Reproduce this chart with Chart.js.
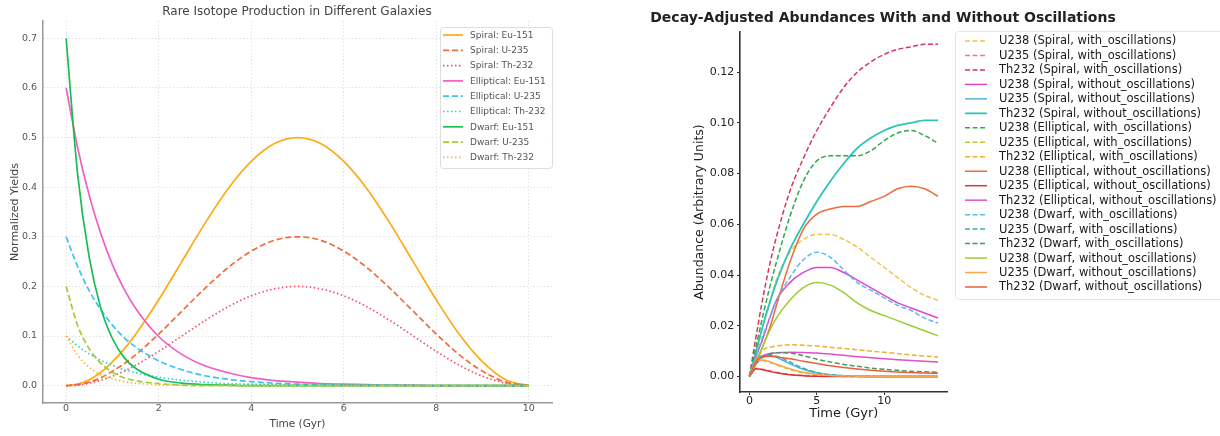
<!DOCTYPE html>
<html>
<head>
  <title>Isotope yields</title>
  <meta name="viewport" content="width=device-width, initial-scale=1">
  <script src="https://cdn.jsdelivr.net/npm/chart.js"></script>
  <style>
    body {
      margin: 0;
      padding: 0;
      background: #fff;
      width: 1220px;
      height: 436px;
      overflow: hidden;
      position: relative;
    }
    .box { position: absolute; top: 0; height: 436px; }
    #left-box { left: 0; width: 565px; }
    #right-box { left: 640px; width: 580px; }
  </style>
</head>
<body>

  <div class="box" id="left-box"><canvas id="leftChart"></canvas></div>
  <div class="box" id="right-box"><canvas id="rightChart"></canvas></div>

  <script>
    // ---- left chart: rare isotope production ----
    const leftTime = [0, 0.25, 0.5, 0.75, 1, 1.25, 1.5, 2, 2.5, 3, 3.5, 4, 4.5, 5, 5.5, 6, 6.5, 7, 7.5, 8, 8.5, 9, 9.5, 10];
    const spiralEu151 = [0, 0.003, 0.012, 0.027, 0.048, 0.073, 0.103, 0.173, 0.25, 0.327, 0.397, 0.452, 0.488, 0.5, 0.488, 0.452, 0.397, 0.327, 0.25, 0.173, 0.103, 0.048, 0.012, 0];
    const spiralU235 = [0, 0.002, 0.007, 0.016, 0.029, 0.044, 0.062, 0.104, 0.15, 0.196, 0.238, 0.271, 0.293, 0.3, 0.293, 0.271, 0.238, 0.196, 0.15, 0.104, 0.062, 0.029, 0.007, 0];
    const spiralTh232 = [0, 0.001, 0.005, 0.011, 0.019, 0.029, 0.041, 0.069, 0.1, 0.131, 0.159, 0.181, 0.195, 0.2, 0.195, 0.181, 0.159, 0.131, 0.1, 0.069, 0.041, 0.019, 0.005, 0];
    const ellipticalEu151 = [0.6, 0.479, 0.383, 0.306, 0.244, 0.195, 0.156, 0.099, 0.063, 0.04, 0.026, 0.016, 0.01, 0.007, 0.004, 0.003, 0.002, 0.001, 0.001, 0, 0, 0, 0, 0];
    const ellipticalU235 = [0.3, 0.24, 0.191, 0.153, 0.122, 0.097, 0.078, 0.05, 0.032, 0.02, 0.013, 0.008, 0.005, 0.003, 0.002, 0.001, 0.001, 0.001, 0, 0, 0, 0, 0, 0];
    const ellipticalTh232 = [0.1, 0.08, 0.064, 0.051, 0.041, 0.032, 0.026, 0.017, 0.011, 0.007, 0.004, 0.003, 0.002, 0.001, 0.001, 0, 0, 0, 0, 0, 0, 0, 0, 0];
    const dwarfEu151 = [0.7, 0.425, 0.258, 0.156, 0.095, 0.057, 0.035, 0.013, 0.005, 0.002, 0.001, 0, 0, 0, 0, 0, 0, 0, 0, 0, 0, 0, 0, 0];
    const dwarfU235 = [0.2, 0.121, 0.074, 0.045, 0.027, 0.016, 0.01, 0.004, 0.001, 0, 0, 0, 0, 0, 0, 0, 0, 0, 0, 0, 0, 0, 0, 0];
    const dwarfTh232 = [0.1, 0.061, 0.037, 0.022, 0.014, 0.008, 0.005, 0.002, 0.001, 0, 0, 0, 0, 0, 0, 0, 0, 0, 0, 0, 0, 0, 0, 0];
    const leftXTicks = [0, 2, 4, 6, 8, 10];
    const leftYTicks = [0, 0.1, 0.2, 0.3, 0.4, 0.5, 0.6, 0.7];

    // ---- right chart: decay-adjusted abundances ----
    const rightTime = [0, 0.5, 1, 1.5, 2, 3, 4, 5, 6, 7, 8, 9, 10, 11, 12, 13, 14];
    const u238SpiralOsc = [0, 0.010, 0.020, 0.029, 0.038, 0.049, 0.054, 0.056, 0.056, 0.054, 0.051, 0.047, 0.043, 0.039, 0.035, 0.032, 0.030];
    const u235SpiralOsc = [0, 0.0032, 0.0028, 0.0022, 0.0016, 0.0008, 0.0004, 0.0002, 0.0001, 0, 0, 0, 0, 0, 0, 0, 0];
    const th232SpiralOsc = [0, 0.016, 0.031, 0.044, 0.055, 0.073, 0.086, 0.097, 0.106, 0.114, 0.120, 0.124, 0.127, 0.129, 0.130, 0.131, 0.131];
    const u238SpiralNo = [0, 0.008, 0.015, 0.023, 0.030, 0.037, 0.041, 0.043, 0.043, 0.041, 0.038, 0.035, 0.032, 0.029, 0.027, 0.025, 0.023];
    const u235SpiralNo = [0, 0.0065, 0.0082, 0.0083, 0.0075, 0.005, 0.0028, 0.0014, 0.0006, 0.0003, 0.0001, 0, 0, 0, 0, 0, 0];
    const th232SpiralNo = [0, 0.010, 0.020, 0.029, 0.037, 0.050, 0.060, 0.069, 0.077, 0.084, 0.090, 0.094, 0.097, 0.099, 0.100, 0.101, 0.101];
    const u238EllOsc = [0, 0.012, 0.024, 0.035, 0.045, 0.063, 0.077, 0.085, 0.087, 0.087, 0.087, 0.089, 0.093, 0.096, 0.097, 0.095, 0.092];
    const u235EllOsc = [0, 0.0058, 0.0062, 0.0055, 0.0045, 0.0027, 0.0014, 0.0007, 0.0003, 0.0001, 0, 0, 0, 0, 0, 0, 0];
    const th232EllOsc = [0, 0.006, 0.0105, 0.0115, 0.012, 0.0125, 0.0123, 0.012, 0.0115, 0.011, 0.0105, 0.010, 0.0095, 0.009, 0.0085, 0.008, 0.0077];
    const u238EllNo = [0, 0.006, 0.012, 0.019, 0.028, 0.045, 0.058, 0.064, 0.066, 0.067, 0.067, 0.069, 0.071, 0.074, 0.075, 0.074, 0.071];
    const u235EllNo = [0, 0.003, 0.0026, 0.002, 0.0014, 0.0007, 0.0003, 0.0001, 0, 0, 0, 0, 0, 0, 0, 0, 0];
    const th232EllNo = [0, 0.005, 0.008, 0.009, 0.0093, 0.0095, 0.0094, 0.0092, 0.0088, 0.0083, 0.0078, 0.0074, 0.007, 0.0066, 0.0063, 0.006, 0.0057];
    const u238DwarfOsc = [0, 0.008, 0.016, 0.023, 0.030, 0.039, 0.046, 0.049, 0.047, 0.042, 0.037, 0.034, 0.031, 0.028, 0.026, 0.023, 0.021];
    const u235DwarfOsc = [0, 0.006, 0.0078, 0.0085, 0.008, 0.0057, 0.0032, 0.0015, 0.0007, 0.0003, 0.0001, 0, 0, 0, 0, 0, 0];
    const th232DwarfOsc = [0, 0.005, 0.0075, 0.0088, 0.0093, 0.0092, 0.0082, 0.0068, 0.0057, 0.0047, 0.004, 0.0033, 0.0028, 0.0024, 0.002, 0.0018, 0.0016];
    const u238DwarfNo = [0, 0.006, 0.012, 0.018, 0.023, 0.030, 0.035, 0.037, 0.036, 0.033, 0.029, 0.026, 0.024, 0.022, 0.020, 0.018, 0.016];
    const u235DwarfNo = [0, 0.0062, 0.0065, 0.0058, 0.0048, 0.003, 0.0016, 0.0008, 0.0004, 0.0002, 0.0001, 0, 0, 0, 0, 0, 0];
    const th232DwarfNo = [0, 0.006, 0.0078, 0.008, 0.0077, 0.007, 0.006, 0.0051, 0.0042, 0.0035, 0.0029, 0.0024, 0.002, 0.0017, 0.0015, 0.0013, 0.0012];
    const rightXTicks = [0, 5, 10];
    const rightYTicks = [0, 0.02, 0.04, 0.06, 0.08, 0.10, 0.12];

    const FONT = "'DejaVu Sans', sans-serif";
    const SOLID = [];

    // title + legend painted on top of the plot
    const overlay = {
      id: 'overlay',
      afterDraw(chart, args, o) {
        const ctx = chart.ctx;
        ctx.save();
        ctx.font = o.titleFont;
        ctx.fillStyle = o.titleColor;
        ctx.textAlign = 'center';
        ctx.textBaseline = 'middle';
        ctx.fillText(o.title, o.titleX, o.titleY);

        const lg = o.legend;
        ctx.fillStyle = 'rgba(255,255,255,0.9)';
        ctx.strokeStyle = lg.border;
        ctx.lineWidth = 1;
        ctx.beginPath();
        ctx.roundRect(lg.x + 0.5, lg.y + 0.5, lg.w, lg.h, 3);
        ctx.fill();
        ctx.stroke();

        chart.data.datasets.forEach((ds, i) => {
          const y = lg.first + i * lg.step;
          ctx.strokeStyle = ds.borderColor;
          ctx.lineWidth = ds.borderWidth;
          ctx.setLineDash(ds.borderDash || []);
          ctx.beginPath();
          ctx.moveTo(lg.x0, y);
          ctx.lineTo(lg.x1, y);
          ctx.stroke();
          ctx.setLineDash([]);
          ctx.fillStyle = lg.color;
          ctx.font = lg.font;
          ctx.textAlign = 'left';
          ctx.fillText(ds.label, lg.textX, y + 0.5);
        });
        ctx.restore();
      }
    };

    function makeSet(label, xs, ys, color, dash, width) {
      return {
        label: label,
        data: xs.map((x, i) => ({ x: x, y: ys[i] })),
        borderColor: color,
        borderWidth: width,
        borderDash: dash,
        pointRadius: 0,
        fill: false,
        cubicInterpolationMode: 'monotone'
      };
    }

    function setTicks(list) {
      return s => { s.ticks = list.map(v => ({ value: v })); };
    }

    // left
    const LD = [6, 3], LO = [1.5, 2.5];
    const leftSets = [
      makeSet('Spiral: Eu-151', leftTime, spiralEu151, '#fdab15', SOLID, 1.7),
      makeSet('Spiral: U-235', leftTime, spiralU235, '#f46c3a', LD, 1.7),
      makeSet('Spiral: Th-232', leftTime, spiralTh232, '#f5506e', LO, 1.7),
      makeSet('Elliptical: Eu-151', leftTime, ellipticalEu151, '#f25ec6', SOLID, 1.7),
      makeSet('Elliptical: U-235', leftTime, ellipticalU235, '#3ec0f5', LD, 1.7),
      makeSet('Elliptical: Th-232', leftTime, ellipticalTh232, '#26d2d2', LO, 1.7),
      makeSet('Dwarf: Eu-151', leftTime, dwarfEu151, '#18be55', SOLID, 1.7),
      makeSet('Dwarf: U-235', leftTime, dwarfU235, '#a3cb34', LD, 1.7),
      makeSet('Dwarf: Th-232', leftTime, dwarfTh232, '#ffb52e', LO, 1.7)
    ];
    leftSets.forEach((d, i) => { d.order = leftSets.length - i; });

    new Chart(document.getElementById('leftChart'), {
      type: 'line',
      data: { datasets: leftSets },
      options: {
        responsive: true,
        maintainAspectRatio: false,
        animation: false,
        layout: { padding: { left: 0, top: 21, right: 13, bottom: 0 } },
        plugins: {
          legend: { display: false },
          tooltip: { enabled: false },
          overlay: {
            title: 'Rare Isotope Production in Different Galaxies',
            titleFont: '12px ' + FONT, titleColor: '#444', titleX: 297, titleY: 12,
            legend: {
              x: 440, y: 27, w: 112, h: 141, border: '#dddddd',
              first: 35, step: 15.3, x0: 443, x1: 463, textX: 470,
              font: '9px ' + FONT, color: '#555'
            }
          }
        },
        scales: {
          x: {
            type: 'linear', min: -0.5, max: 10.5,
            afterBuildTicks: setTicks(leftXTicks),
            afterFit: s => { s.height = 33; },
            grid: { color: '#e2e2e2', drawTicks: false },
            border: { color: '#999', width: 1.5, dash: [1.5, 2] },
            ticks: { color: '#555', font: { family: FONT, size: 9.5 }, padding: 0, maxRotation: 0 },
            title: { display: true, text: 'Time (Gyr)', color: '#444', font: { family: FONT, size: 10.5 }, padding: { top: 0, bottom: 5.5 } }
          },
          y: {
            type: 'linear', min: -0.035, max: 0.735,
            afterBuildTicks: setTicks(leftYTicks),
            afterFit: s => { s.width = 43; },
            grid: { color: '#e2e2e2', drawTicks: false },
            border: { color: '#999', width: 1.5, dash: [1.5, 2] },
            ticks: { color: '#555', font: { family: FONT, size: 9.5 }, padding: 6, callback: v => v.toFixed(1) },
            title: { display: true, text: 'Normalized Yields', color: '#444', font: { family: FONT, size: 11 }, padding: { top: 8.4, bottom: 0 } }
          }
        }
      },
      plugins: [overlay]
    });

    // right
    const RD = [5, 2.5];
    const rightSets = [
      makeSet('U238 (Spiral, with_oscillations)', rightTime, u238SpiralOsc, '#f2c14e', RD, 1.5),
      makeSet('U235 (Spiral, with_oscillations)', rightTime, u235SpiralOsc, '#e8806f', RD, 1.5),
      makeSet('Th232 (Spiral, with_oscillations)', rightTime, th232SpiralOsc, '#d6385a', RD, 1.5),
      makeSet('U238 (Spiral, without_oscillations)', rightTime, u238SpiralNo, '#df45d2', SOLID, 1.5),
      makeSet('U235 (Spiral, without_oscillations)', rightTime, u235SpiralNo, '#4db3e6', SOLID, 1.5),
      makeSet('Th232 (Spiral, without_oscillations)', rightTime, th232SpiralNo, '#2ec4b6', SOLID, 1.8),
      makeSet('U238 (Elliptical, with_oscillations)', rightTime, u238EllOsc, '#2ea84e', RD, 1.5),
      makeSet('U235 (Elliptical, with_oscillations)', rightTime, u235EllOsc, '#b8cc2e', RD, 1.5),
      makeSet('Th232 (Elliptical, with_oscillations)', rightTime, th232EllOsc, '#f0b030', RD, 1.5),
      makeSet('U238 (Elliptical, without_oscillations)', rightTime, u238EllNo, '#ee6a3c', SOLID, 1.5),
      makeSet('U235 (Elliptical, without_oscillations)', rightTime, u235EllNo, '#e0303a', SOLID, 1.5),
      makeSet('Th232 (Elliptical, without_oscillations)', rightTime, th232EllNo, '#e050c8', SOLID, 1.5),
      makeSet('U238 (Dwarf, with_oscillations)', rightTime, u238DwarfOsc, '#5ab8ea', RD, 1.5),
      makeSet('U235 (Dwarf, with_oscillations)', rightTime, u235DwarfOsc, '#3aaeae', RD, 1.5),
      makeSet('Th232 (Dwarf, with_oscillations)', rightTime, th232DwarfOsc, '#4a9a5a', RD, 1.5),
      makeSet('U238 (Dwarf, without_oscillations)', rightTime, u238DwarfNo, '#9acd32', SOLID, 1.5),
      makeSet('U235 (Dwarf, without_oscillations)', rightTime, u235DwarfNo, '#f5a850', SOLID, 1.5),
      makeSet('Th232 (Dwarf, without_oscillations)', rightTime, th232DwarfNo, '#e8603a', SOLID, 1.5)
    ];
    rightSets.forEach((d, i) => { d.order = rightSets.length - i; });

    new Chart(document.getElementById('rightChart'), {
      type: 'line',
      data: { datasets: rightSets },
      options: {
        responsive: true,
        maintainAspectRatio: false,
        animation: false,
        layout: { padding: { left: 0, top: 32, right: 272.5, bottom: 0 } },
        plugins: {
          legend: { display: false },
          tooltip: { enabled: false },
          overlay: {
            title: 'Decay-Adjusted Abundances With and Without Oscillations',
            titleFont: 'bold 14px ' + FONT, titleColor: '#222', titleX: 243, titleY: 18,
            legend: {
              x: 315, y: 31, w: 280, h: 268, border: '#e4e4e4',
              first: 41, step: 14.47, x0: 325, x1: 347, textX: 359,
              font: '11.5px ' + FONT, color: '#1a1a1a'
            }
          }
        },
        scales: {
          x: {
            type: 'linear', min: -0.7, max: 14.7,
            afterBuildTicks: setTicks(rightXTicks),
            afterFit: s => { s.height = 44; },
            grid: { drawOnChartArea: false, drawTicks: true, tickLength: 3, tickColor: '#333' },
            border: { color: '#333', width: 1.6 },
            ticks: { color: '#222', font: { family: FONT, size: 11 }, padding: 0, maxRotation: 0 },
            title: { display: true, text: 'Time (Gyr)', color: '#222', font: { family: FONT, size: 13 }, padding: { top: 0, bottom: 14.2 } }
          },
          y: {
            type: 'linear', min: -0.00615, max: 0.13585,
            afterBuildTicks: setTicks(rightYTicks),
            afterFit: s => { s.width = 100; },
            grid: { drawOnChartArea: false, drawTicks: true, tickLength: 3, tickColor: '#333' },
            border: { color: '#333', width: 1.6 },
            ticks: { color: '#222', font: { family: FONT, size: 11 }, padding: 2.7, callback: v => v.toFixed(2) },
            title: { display: true, text: 'Abundance (Arbitrary Units)', color: '#222', font: { family: FONT, size: 12.5 }, padding: { top: 52.5, bottom: 0 } }
          }
        }
      },
      plugins: [overlay]
    });
  </script>

</body>
</html>
